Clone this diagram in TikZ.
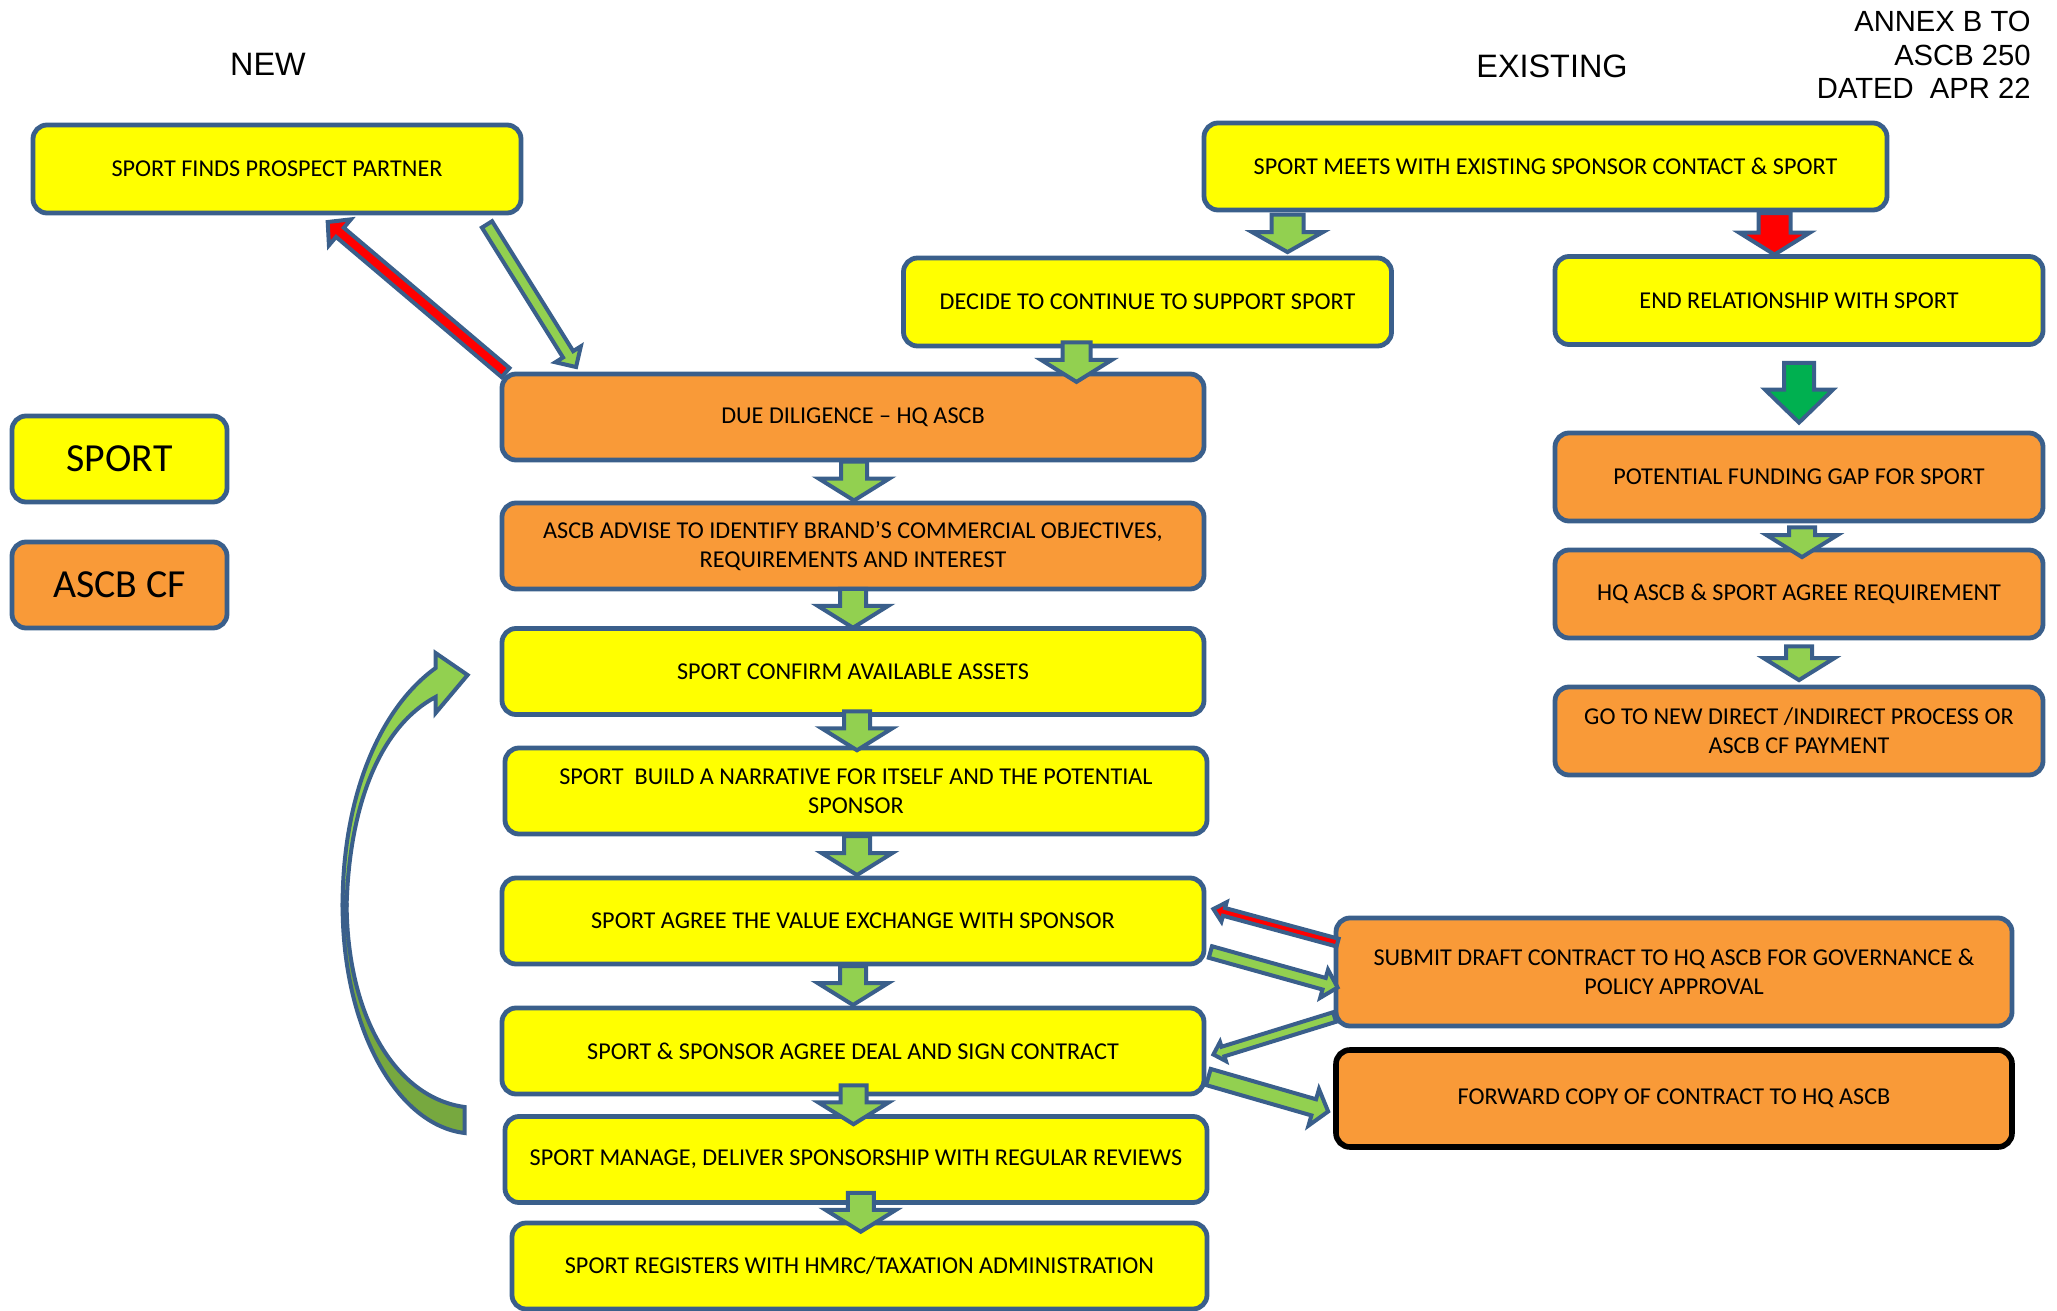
\documentclass[tikz,border=0pt]{standalone}
\usepackage{fontspec}
\setmainfont{Carlito}
\newfontfamily\headfont{Liberation Sans}
\usetikzlibrary{calc}
\definecolor{boxyellow}{HTML}{FFFF00}
\definecolor{boxorange}{HTML}{F99A38}
\definecolor{edgeblue}{HTML}{3A5F8B}
\definecolor{arrowgreen}{HTML}{92D050}
\definecolor{darkgreen}{HTML}{00B050}
\definecolor{loopdark}{HTML}{77A83F}
\newcommand{\boxfont}{\fontsize{12.1}{14.5}\selectfont}
\newcommand{\blockarrow}[6]{%
  \draw[arrow_edge, fill=#1] let \p1=#5, \p2=#6,
    \n1={atan2(\y2-\y1,\x2-\x1)}, \n2={veclen(\x2-\x1,\y2-\y1)} in
    [shift={(\p1)}, rotate=\n1]
    (0pt,-#2) -- ({\n2*1pt-#4},-#2) -- ({\n2*1pt-#4},-#3) -- ({\n2*1pt},0pt)
    -- ({\n2*1pt-#4},#3) -- ({\n2*1pt-#4},#2) -- (0pt,#2) -- cycle;}
\newcommand{\stepdown}[3]{%
  \blockarrow{arrowgreen}{6.5pt}{17.7pt}{11pt}%
    {($(#1.south)!.5!(#2.north)+(#3,-20)$)}{($(#1.south)!.5!(#2.north)+(#3,19)$)}}
\begin{document}
\begin{tikzpicture}[x=0.5pt, y=-0.5pt,
sport_style/.style={draw=edgeblue, line width=2.4pt, fill=boxyellow, rounded corners=7pt, align=center, font=\boxfont, inner sep=2pt},
ascb_style/.style={sport_style, fill=boxorange},
wide_box/.style={minimum width=351pt, minimum height=43pt},
right_box/.style={minimum width=244pt, minimum height=44pt},
legend_box/.style={minimum width=107.5pt, minimum height=43pt, font=\fontsize{19.9}{24}\selectfont},
arrow_edge/.style={draw=edgeblue, line width=2pt, line join=miter},
head_text/.style={font=\headfont\fontsize{16.2}{18}\selectfont},
annex_text/.style={font=\headfont\fontsize{14.6}{16.75}\selectfont, align=right, inner sep=0pt}]
\useasboundingbox (0,0) rectangle (2057,1311);
\node[head_text] (new_label) at (268,64) {NEW};
\node[head_text] (existing_label) at (1552,66) {EXISTING};
\node[annex_text, anchor=north east] (annex) at (2031,11) {ANNEX B TO\\ASCB 250\\DATED\ \ APR 22};
\node[sport_style, right_box] (finds) at (277,169) {SPORT FINDS PROSPECT PARTNER};
\node[sport_style, minimum width=341.5pt, minimum height=43.5pt] (meets) at (1545.5,166.5) {SPORT MEETS WITH EXISTING SPONSOR CONTACT \& SPORT};
\node[sport_style, right_box] (decide) at (1147.5,302) {DECIDE TO CONTINUE TO SUPPORT SPORT};
\node[sport_style, right_box] (endrel) at (1799,300.5) {END RELATIONSHIP WITH SPORT};
\node[ascb_style, wide_box] (due) at (853,417) {DUE DILIGENCE – HQ ASCB};
\node[sport_style, legend_box] (key_sport) at (119.5,459) {SPORT};
\node[ascb_style, legend_box] (key_ascb) at (119.5,585) {ASCB CF};
\node[ascb_style, wide_box] (advise) at (853,546) {ASCB ADVISE TO IDENTIFY BRAND’S COMMERCIAL OBJECTIVES,\\REQUIREMENTS AND INTEREST};
\node[sport_style, wide_box] (confirm) at (853,671.5) {SPORT CONFIRM AVAILABLE ASSETS};
\node[sport_style, wide_box] (narrative) at (856,791) {SPORT\ \ BUILD A NARRATIVE FOR ITSELF AND THE POTENTIAL\\SPONSOR};
\node[sport_style, wide_box] (agree) at (853,921) {SPORT AGREE THE VALUE EXCHANGE WITH SPONSOR};
\node[sport_style, wide_box] (deal) at (853,1051) {SPORT \& SPONSOR AGREE DEAL AND SIGN CONTRACT};
\node[sport_style, wide_box] (manage) at (856,1159.5) {SPORT MANAGE, DELIVER SPONSORSHIP WITH REGULAR REVIEWS};
\node[sport_style, wide_box, minimum width=347.5pt] (register) at (859.5,1266) {SPORT REGISTERS WITH HMRC/TAXATION ADMINISTRATION};
\node[ascb_style, right_box] (potential) at (1799,477) {POTENTIAL FUNDING GAP FOR SPORT};
\node[ascb_style, right_box] (hqagree) at (1799,594) {HQ ASCB \& SPORT AGREE REQUIREMENT};
\node[ascb_style, right_box] (goto) at (1799,731) {GO TO NEW DIRECT /INDIRECT PROCESS OR\\ASCB CF PAYMENT};
\node[ascb_style, minimum width=338pt, minimum height=54pt] (submit) at (1674,972) {SUBMIT DRAFT CONTRACT TO HQ ASCB FOR GOVERNANCE \&\\POLICY APPROVAL};
\node[ascb_style, draw=black, line width=2.8pt, minimum width=338pt, minimum height=48.5pt] (forward) at (1674,1098.5) {FORWARD COPY OF CONTRACT TO HQ ASCB};
% new partner loop
\blockarrow{red}{3pt}{8.5pt}{8pt}{($(due.north west)+(6,1)$)}{($(finds.south)+(50,6)$)}
\blockarrow{arrowgreen}{3pt}{7.5pt}{7.5pt}{($(finds.south)+(210,9)$)}{($(due.north west)+(76.5,-4.5)$)}
% existing sponsor
\blockarrow{arrowgreen}{8pt}{17.7pt}{10pt}{($(decide.north)+(140,-41)$)}{($(decide.north)+(140,-3.5)$)}
\blockarrow{red}{8pt}{17.7pt}{11pt}{($(endrel.north)+(-24.5,-41)$)}{($(endrel.north)+(-24.5,0.5)$)}
\blockarrow{arrowgreen}{7pt}{17.7pt}{11pt}{($(decide.south)+(-71,-6)$)}{($(decide.south)+(-71,33.5)$)}
\blockarrow{darkgreen}{7.5pt}{17pt}{16.5pt}{($(endrel.south)+(0,16)$)}{($(potential.north)+(0,-8)$)}
\blockarrow{arrowgreen}{6.5pt}{17.7pt}{11pt}{($(potential.south)+(3,4)$)}{($(hqagree.north)+(3,9.5)$)}
\blockarrow{arrowgreen}{6.5pt}{17.7pt}{11pt}{($(hqagree.south)+(0,6)$)}{($(goto.north)+(0,-4.5)$)}
% main column
\stepdown{due}{advise}{1}
\stepdown{advise}{confirm}{0}
\stepdown{confirm}{narrative}{2.5}
\stepdown{narrative}{agree}{2.5}
\stepdown{agree}{deal}{0}
\stepdown{deal}{manage}{-1}
\stepdown{manage}{register}{3}
% contract approval
\blockarrow{red}{2pt}{5pt}{5.5pt}{($(submit.north west)+(4,27)$)}{($(agree.east)+(7,-12)$)}
\blockarrow{arrowgreen}{3pt}{7.3pt}{7pt}{($(agree.east)+(4,31)$)}{($(submit.west)+(4,15.5)$)}
\blockarrow{arrowgreen}{2.5pt}{5pt}{5pt}{($(submit.west)+(1,45)$)}{($(deal.east)+(7,3.5)$)}
\blockarrow{arrowgreen}{4.2pt}{9.5pt}{7.5pt}{($(deal.east)+(2,26)$)}{($(forward.west)+(-5,13)$)}
% review loop
\begin{scope}[shift={(confirm.west)}]
\draw[arrow_edge, fill=arrowgreen] (-64,-3.5) .. controls (-122,38.5) and (-157,128.5) .. (-157,233.5)
  -- (-153,233.5) .. controls (-150,128.5) and (-117,53.5) .. (-64,25.5)
  -- (-64,41.5) -- (-32,3.5) -- (-64,-18.5) -- cycle;
\draw[arrow_edge, fill=loopdark] (-157,233.5) .. controls (-157,358.5) and (-102,453.5) .. (-35,461.5)
  -- (-35,435.5) .. controls (-102,426.5) and (-152,348.5) .. (-153,233.5) -- cycle;
\end{scope}
\end{tikzpicture}
\end{document}
